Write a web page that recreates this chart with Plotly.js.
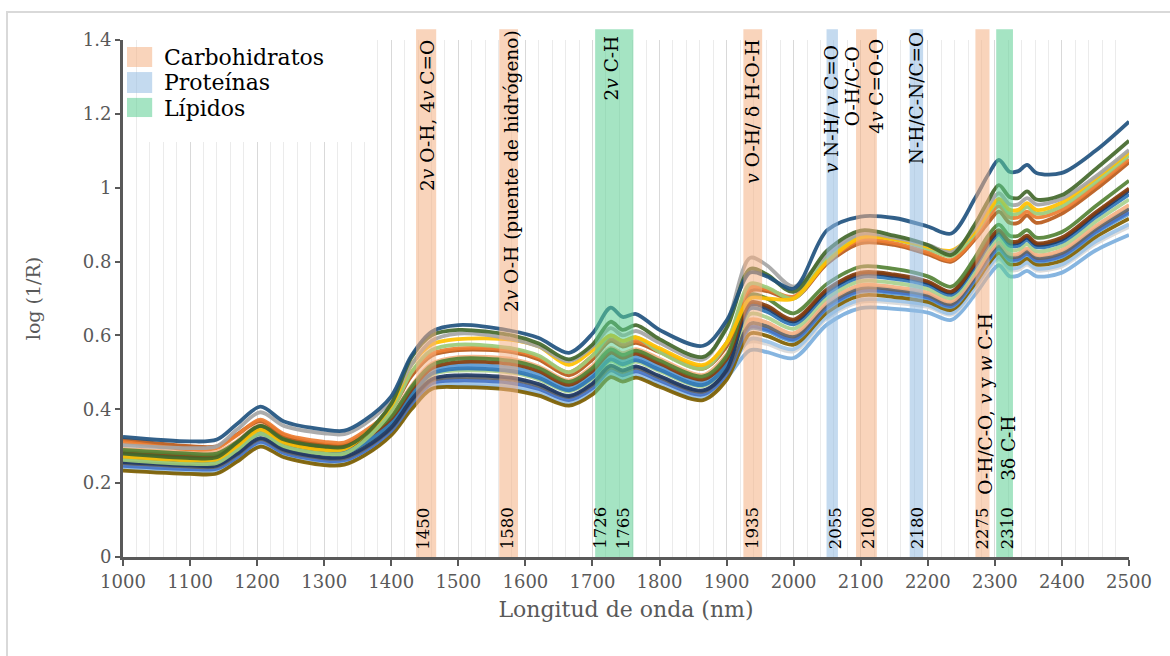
<!DOCTYPE html>
<html><head><meta charset="utf-8">
<script src="https://cdn.plot.ly/plotly-3.0.1.min.js"></script>
<style>html,body{margin:0;padding:0;background:#fff}</style>
</head><body><div id="chart" style="width:1170px;height:656px"></div>
<script>
// Wavelengths (nm) at which each spectrum is read
const wavelength = [1000,1100,1140,1170,1205,1240,1300,1330,1360,1400,1430,1460,1500,1580,1620,1665,1700,1727,1745,1765,1800,1865,1900,1935,1960,2000,2050,2100,2150,2200,2235,2270,2290,2306,2322,2335,2348,2362,2400,2450,2500];

// log(1/R) spectra
const m01 = [.325,.313,.318,.36,.407,.367,.345,.342,.37,.435,.545,.61,.628,.612,.593,.553,.605,.675,.65,.658,.615,.572,.64,.77,.76,.727,.885,.922,.918,.895,.876,.97,1.035,1.075,1.043,1.045,1.062,1.04,1.04,1.10,1.179];
const m02 = [.280,.268,.27,.31,.355,.318,.299,.298,.33,.415,.54,.60,.615,.60,.578,.535,.575,.637,.615,.628,.59,.542,.62,.78,.765,.718,.83,.884,.87,.845,.818,.90,.965,1.007,.975,.972,.99,.968,.98,1.05,1.127];
const m03 = [.303,.295,.30,.345,.392,.355,.335,.333,.36,.425,.52,.585,.605,.59,.57,.53,.57,.62,.60,.612,.58,.535,.63,.81,.79,.732,.82,.875,.865,.845,.825,.89,.95,.985,.955,.955,.972,.955,.97,1.03,1.102];
const m04 = [.272,.262,.265,.30,.345,.31,.29,.292,.33,.41,.52,.575,.59,.588,.57,.52,.56,.60,.585,.595,.565,.52,.58,.70,.70,.70,.80,.865,.86,.84,.83,.88,.935,.97,.94,.94,.958,.94,.96,1.025,1.096];
const m05 = [.263,.252,.255,.29,.335,.30,.28,.28,.315,.395,.50,.56,.575,.565,.545,.50,.545,.60,.585,.595,.555,.51,.58,.74,.73,.70,.81,.87,.86,.835,.815,.875,.93,.962,.93,.93,.948,.93,.95,1.015,1.087];
const m06 = [.312,.292,.295,.33,.372,.333,.312,.31,.34,.40,.50,.55,.565,.56,.54,.50,.545,.59,.575,.585,.56,.515,.58,.73,.725,.705,.80,.858,.85,.825,.804,.865,.92,.95,.92,.92,.935,.92,.94,1.005,1.077];
const m07 = [.318,.30,.30,.332,.368,.33,.305,.303,.335,.40,.49,.545,.56,.555,.535,.492,.535,.585,.57,.58,.555,.51,.57,.72,.72,.70,.795,.85,.845,.82,.80,.86,.905,.935,.905,.905,.925,.905,.93,.995,1.069];
const m08 = [.290,.280,.280,.311,.355,.321,.301,.301,.326,.381,.460,.519,.537,.531,.512,.474,.512,.562,.547,.559,.532,.489,.544,.710,.700,.660,.740,.786,.780,.760,.732,.810,.870,.900,.870,.870,.885,.865,.880,.950,1.019];
const m09 = [.284,.274,.274,.305,.349,.315,.295,.295,.320,.375,.453,.511,.528,.522,.503,.466,.504,.553,.539,.551,.524,.481,.536,.689,.680,.643,.725,.770,.765,.746,.719,.796,.855,.885,.855,.855,.870,.850,.865,.933,.998];
const m10 = [.257,.248,.248,.280,.322,.291,.270,.271,.296,.351,.425,.481,.492,.485,.468,.436,.470,.518,.505,.516,.490,.451,.506,.683,.674,.638,.720,.766,.761,.742,.716,.792,.850,.880,.850,.851,.865,.846,.860,.928,.993];
const m11 = [.270,.261,.261,.292,.335,.303,.283,.283,.308,.363,.439,.496,.510,.503,.485,.451,.487,.535,.522,.533,.507,.466,.521,.673,.664,.630,.713,.758,.753,.736,.710,.785,.843,.873,.843,.843,.858,.839,.853,.920,.982];
const m12 = [.267,.258,.258,.289,.332,.300,.280,.280,.305,.360,.435,.493,.505,.499,.481,.448,.483,.531,.518,.529,.503,.463,.518,.658,.649,.618,.702,.747,.742,.726,.701,.775,.832,.862,.832,.832,.847,.828,.842,.908,.968];
const m13 = [.293,.284,.284,.314,.358,.324,.304,.304,.329,.384,.463,.523,.541,.536,.516,.478,.517,.566,.552,.563,.537,.493,.548,.643,.635,.606,.691,.736,.731,.716,.692,.765,.821,.851,.821,.821,.836,.818,.831,.896,.953];
const m14 = [.254,.245,.245,.277,.319,.288,.267,.268,.293,.348,.421,.478,.487,.480,.463,.433,.466,.513,.501,.512,.486,.448,.503,.632,.625,.597,.683,.728,.724,.709,.685,.758,.813,.843,.813,.814,.828,.810,.823,.888,.943];
const m15 = [.247,.238,.239,.270,.312,.282,.261,.262,.287,.342,.414,.470,.478,.471,.455,.425,.457,.505,.492,.503,.478,.440,.495,.623,.616,.590,.676,.721,.717,.703,.680,.752,.806,.836,.806,.807,.821,.804,.816,.880,.934];
const m16 = [.277,.267,.268,.298,.342,.309,.289,.289,.314,.369,.446,.504,.519,.512,.494,.459,.495,.544,.530,.542,.516,.474,.529,.619,.612,.586,.673,.718,.714,.700,.677,.749,.803,.833,.803,.804,.818,.801,.813,.877,.929];
const m17 = [.234,.225,.226,.258,.299,.270,.249,.250,.275,.330,.400,.455,.460,.452,.437,.410,.440,.487,.475,.486,.461,.425,.480,.605,.599,.575,.663,.708,.704,.691,.669,.740,.793,.823,.793,.794,.808,.792,.803,.866,.916];
const m18 = [.242,.233,.234,.265,.307,.277,.256,.257,.282,.337,.408,.464,.471,.463,.448,.419,.450,.498,.485,.496,.471,.434,.489,.590,.584,.563,.652,.696,.694,.682,.660,.730,.782,.812,.782,.784,.797,.781,.792,.854,.901];
const m19 = [.280,.271,.271,.301,.345,.312,.292,.292,.317,.372,.449,.508,.523,.517,.499,.463,.500,.549,.535,.546,.520,.478,.533,.583,.577,.557,.647,.691,.688,.677,.656,.725,.777,.807,.777,.778,.792,.776,.787,.848,.894];
const m20 = [.237,.228,.229,.261,.302,.273,.252,.253,.278,.333,.404,.459,.465,.457,.441,.414,.444,.491,.479,.490,.465,.429,.484,.560,.555,.539,.630,.674,.672,.662,.642,.710,.760,.790,.760,.762,.775,.760,.770,.830,.872];

// Absorption bands (nm) and their assignments
const bandStart = [1437,1561,1704,1925,2049,2093,2173,2271,2302];
const bandEnd   = [1467,1589,1761,1953,2066,2124,2193,2292,2327];
const bandGroup = ['Carbohidratos','Carbohidratos','Lípidos','Carbohidratos','Proteínas','Carbohidratos','Proteínas','Carbohidratos','Lípidos'];
const groupNames = ['Carbohidratos','Proteínas','Lípidos'];
const peakLabels = ['1450','1580','1726','1765','1935','2055','2100','2180','2275','2310'];
const peakLabelX = [1448,1572.5,1712,1745.5,1939,2061.5,2112,2185,2281,2318];
const bandText = ['2<i>v</i> O-H, 4<i>v</i> C=O','2<i>v</i> O-H (puente de hidrógeno)','2<i>v</i> C-H','<i>v</i> O-H/ δ H-O-H','<i>v</i> N-H/ <i>v</i> C=O','O-H/C-O<br>4<i>v</i> C=O-O','N-H/C-N/C=O','O-H/C-O, <i>v</i> y <i>w</i> C-H','3δ C-H'];
const bandTextX = [1454,1578.5,1729,1939,2056,2105.5,2182.5,2285,2320];

const spectra = [m20,m19,m18,m17,m16,m15,m14,m13,m12,m11,m10,m09,m08,m07,m06,m05,m04,m03,m02,m01];
const lineColors = ['#7CAFDD','#D9D9D9','#9DC3E6','#7F6000','#5B9BD5','#4472C4','#636363','#F4B183','#A9D18E','#2E75B6','#203864','#843C0C','#548235','#B85A1B','#ED7D31','#9BCB7A','#FFC000','#A5A5A5','#43682B','#21527F'];

const groupFill = {'Carbohidratos':'#F4B183','Proteínas':'#93BBE1','Lípidos':'#5BCD91'};
const groupOpacity = 0.55;

const FONT = 'DejaVu Serif, Liberation Serif, serif';
const traces = spectra.map((s, i) => ({
  type: 'scatter', mode: 'lines', x: wavelength, y: s,
  line: {color: lineColors[i], width: 3.8, shape: 'spline', smoothing: 0.9},
  opacity: 0.92, showlegend: false, hoverinfo: 'x+y'
}));

const shapes = [];
// outer chart border
shapes.push({type:'rect', xref:'paper', yref:'paper', x0:-0.1153, x1:1.05, y0:-0.21, y1:1.0542,
  line:{color:'#D9D9D9', width:2}, fillcolor:'rgba(0,0,0,0)', layer:'below'});
// legend background (hides gridlines)
shapes.push({type:'rect', xref:'x', yref:'y', x0:1030, x1:1371, y0:1.124, y1:1.45,
  line:{width:0}, fillcolor:'#ffffff', layer:'between'});
bandStart.forEach((b, i) => {
  shapes.push({type:'rect', xref:'x', yref:'paper', x0:b, x1:bandEnd[i], y0:0, y1:1.021,
    line:{width:0}, fillcolor:groupFill[bandGroup[i]], opacity:groupOpacity, layer:'above'});
});
// legend swatches
const swY = [[0.9478,0.9865],[0.8975,0.938],[0.851,0.888]];
const txY = [0.967,0.917,0.868];
const annotations = [];
groupNames.forEach((g, i) => {
  shapes.push({type:'rect', xref:'paper', yref:'paper', x0:0.004, x1:0.029, y0:swY[i][0], y1:swY[i][1],
    line:{width:0}, fillcolor:groupFill[g], opacity:groupOpacity, layer:'above'});
  annotations.push({xref:'paper', yref:'paper', x:0.0385, y:txY[i], xanchor:'left', yanchor:'middle',
    text:g, showarrow:false, font:{family:FONT, size:22, color:'#000'}});
});
// peak wavelength labels
peakLabels.forEach((t, i) => {
  annotations.push({xref:'x', yref:'paper', x:peakLabelX[i], y:0.011, xanchor:'center', yanchor:'bottom',
    text:t, textangle:-90, showarrow:false, font:{family:FONT, size:16.5, color:'#000'}});
});
// band assignments
const topY = [1.004,1.023,1.0135,1.004,0.994,1.006,1.019];
bandText.forEach((t, i) => {
  const a = {xref:'x', yref:'paper', x:bandTextX[i], xanchor:'center', text:t, textangle:-90,
    showarrow:false, font:{family:FONT, size:18.5, color:'#000'}};
  if (i < 7) { a.y = topY[i]; a.yanchor = 'top'; }
  else { a.y = (i === 7 ? 0.116 : 0.143); a.yanchor = 'bottom'; }
  annotations.push(a);
});

const layout = {
  width:1170, height:656,
  margin:{l:123, r:41, t:40, b:99},
  paper_bgcolor:'#fff', plot_bgcolor:'#fff',
  font:{family:FONT, color:'#595959'},
  showlegend:false,
  xaxis:{range:[1000,2500], dtick:100, tick0:1000, ticks:'outside', ticklen:6, tickwidth:2, tickcolor:'#595959',
    showline:true, linecolor:'#595959', linewidth:3, zeroline:false,
    showgrid:true, gridcolor:'#D9D9D9', gridwidth:1,
    minor:{dtick:20, showgrid:true, gridcolor:'#EBEBEB', gridwidth:1},
    tickfont:{family:FONT, size:18, color:'#595959'},
    title:{text:'Longitud de onda (nm)', font:{family:FONT, size:22, color:'#595959'}, standoff:12}},
  yaxis:{range:[0,1.4], dtick:0.2, ticks:'outside', ticklen:5, tickwidth:2, tickcolor:'#595959',
    showline:true, linecolor:'#595959', linewidth:3, zeroline:false, showgrid:false,
    tickfont:{family:FONT, size:18, color:'#595959'},
    title:{text:'log (1/R)', font:{family:FONT, size:19, color:'#595959'}, standoff:38}},
  shapes:shapes, annotations:annotations
};
Plotly.newPlot('chart', traces, layout, {displayModeBar:false, staticPlot:true});
</script></body></html>
